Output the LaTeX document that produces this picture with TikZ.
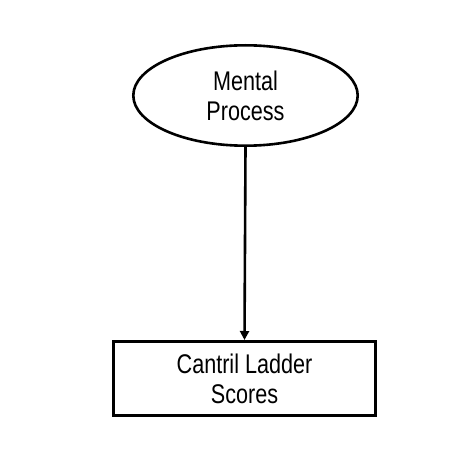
\documentclass[tikz,border=0pt]{standalone}
\usepackage{fontspec}
\setmainfont{Liberation Sans}[FakeStretch=0.8]
\usetikzlibrary{shapes.geometric,arrows.meta}
\begin{document}
\begin{tikzpicture}[x=1pt,y=-1pt,
  every node/.style={font=\fontsize{27}{30}\selectfont, align=center, inner sep=0pt},
  oval/.style={ellipse, draw, line width=2.6pt, minimum width=224.4pt, minimum height=100.4pt},
  box/.style={rectangle, draw, line width=2.6pt, minimum width=262.4pt, minimum height=74.4pt},
  link/.style={line width=2.6pt, -{Triangle[length=9pt,width=9pt]}}]
\fill[white] (0,0) rectangle (456,468);
\useasboundingbox (0,0) rectangle (456,468);
\node[oval] (mp) at (245.5,95.5) {Mental\\Process};
\node[box] (cl) at (244.5,378.5) {Cantril Ladder\\Scores};
\draw[link] (mp.south) -- (cl.north);
\end{tikzpicture}
\end{document}
